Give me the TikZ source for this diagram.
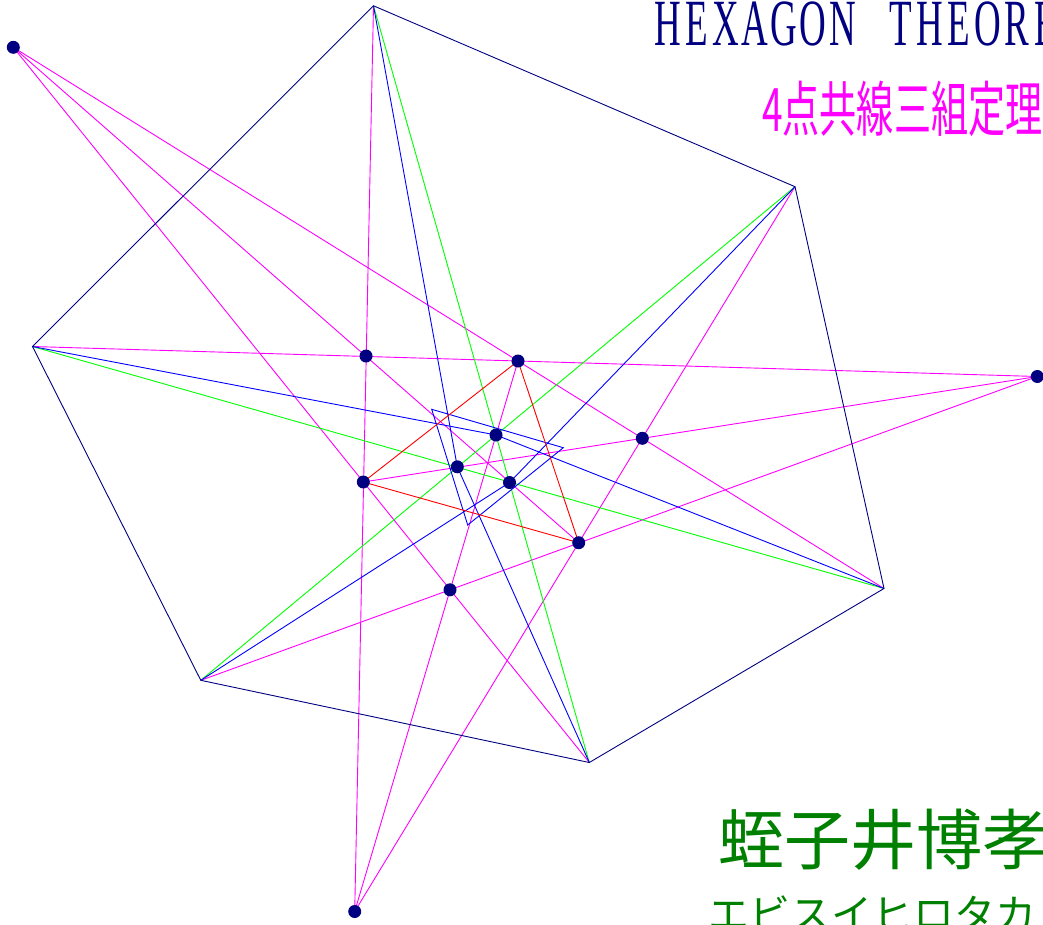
\documentclass[tikz,border=0pt]{standalone}
\usepackage{fontspec}
\setmainfont{Liberation Serif}
\newfontfamily\jpfont{Noto Sans CJK JP}
\definecolor{navy}{RGB}{0,0,128}
\definecolor{magline}{RGB}{255,0,255}
\definecolor{grnline}{RGB}{0,255,0}
\definecolor{bluline}{RGB}{0,0,255}
\definecolor{redline}{RGB}{255,0,0}
\definecolor{darkgrn}{RGB}{0,128,0}
\newcommand\monochar[1]{\makebox[29.1pt][c]{\scalebox{0.56}[1]{#1}}}
\tikzset{
  hexedge/.style={draw=navy, line width=0.9pt},
  magedge/.style={draw=magline, line width=0.9pt},
  grnedge/.style={draw=grnline, line width=0.9pt},
  bluedge/.style={draw=bluline, line width=0.9pt},
  rededge/.style={draw=redline, line width=0.9pt},
  dotnode/.style={circle, fill=navy, inner sep=0pt, minimum size=13pt},
  txt/.style={inner sep=0pt, anchor=base west}
}
\begin{document}
\begin{tikzpicture}[x=1pt,y=-1pt]
\useasboundingbox (0,0) rectangle (1043,924);
\clip (0,0) rectangle (1043,924);
% hexagon vertices
\coordinate (H1) at (373.5,5.8);
\coordinate (H2) at (795,186.7);
\coordinate (H3) at (884,588.5);
\coordinate (H4) at (589.3,762.5);
\coordinate (H5) at (200.8,680.3);
\coordinate (H6) at (32.5,346.5);
% outer points
\coordinate (PTL) at (13.3,47.3);
\coordinate (PR) at (1037.3,376.5);
\coordinate (PB) at (354.7,911.5);
% inner points
\coordinate (A) at (366,356);
\coordinate (B) at (518,361);
\coordinate (C) at (642.3,438.3);
\coordinate (D) at (578.7,542.7);
\coordinate (E) at (450,589.8);
\coordinate (F) at (363.3,482);
\coordinate (G1) at (496,435);
\coordinate (G2) at (457.3,466.8);
\coordinate (G3) at (509.5,482.5);
% blue triangle
\coordinate (T1) at (431.7,409.3);
\coordinate (T2) at (563.3,447.7);
\coordinate (T3) at (467.7,525);

% magenta lines (4 points collinear)
\draw[magedge] (PTL) -- (H3);
\draw[magedge] (PTL) -- (D);
\draw[magedge] (PTL) -- (H4);
\draw[magedge] (PR) -- (H6);
\draw[magedge] (PR) -- (F);
\draw[magedge] (PR) -- (H5);
\draw[magedge] (PB) -- (H1);
\draw[magedge] (PB) -- (B);
\draw[magedge] (PB) -- (H2);
% green diagonals
\draw[grnedge] (H1) -- (H4);
\draw[grnedge] (H2) -- (H5);
\draw[grnedge] (H3) -- (H6);
% blue broken lines
\draw[bluedge] (H6) -- (G1) -- (H3);
\draw[bluedge] (H1) -- (G2) -- (H4);
\draw[bluedge] (H2) -- (G3) -- (H5);
\draw[bluedge] (T1) -- (T2) -- (T3) -- cycle;
% red triangle
\draw[rededge] (B) -- (F) -- (D) -- cycle;
% hexagon
\draw[hexedge] (H1) -- (H2) -- (H3) -- (H4) -- (H5) -- (H6) -- cycle;

% dots
\foreach \p in {PTL,PR,PB,A,B,C,D,E,F,G1,G2,G3}
  \node[dotnode] (dot\p) at (\p) {};

% texts
\node[txt, text=navy] (title) at (653,45)
  {\fontsize{66}{66}\selectfont\monochar{H}\monochar{E}\monochar{X}\monochar{A}\monochar{G}\monochar{O}\monochar{N}\monochar{ }\monochar{T}\monochar{H}\monochar{E}\monochar{O}\monochar{R}\monochar{E}};
\node[txt, text=magline] (subtitle) at (762,131)
  {\jpfont\fontsize{60}{60}\selectfont\scalebox{0.618}[1]{4点共線三組定理}};
\node[txt, text=darkgrn] (author) at (718,864)
  {\jpfont\fontsize{66}{66}\selectfont 蛭子井博孝};
\node[txt, text=darkgrn] (kana) at (708,929)
  {\jpfont\fontsize{41}{41}\selectfont エビスイヒロタカ};
\end{tikzpicture}
\end{document}
